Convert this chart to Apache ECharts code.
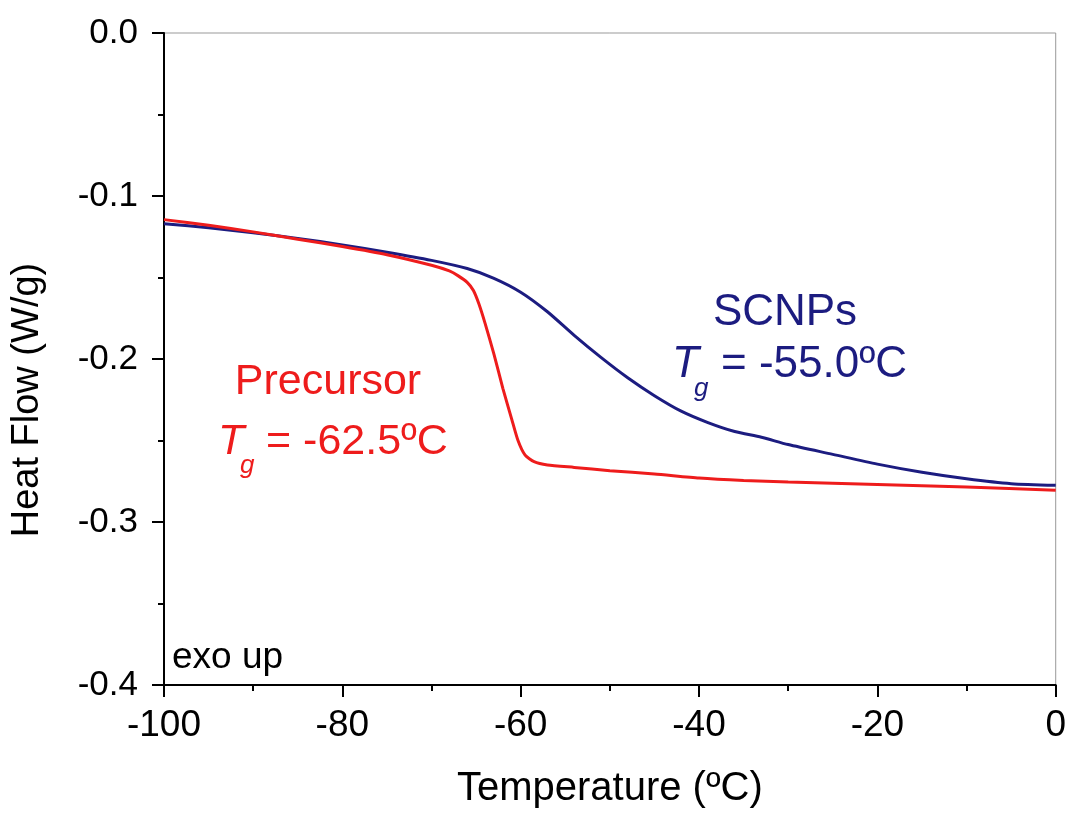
<!DOCTYPE html>
<html>
<head>
<meta charset="utf-8">
<script src="https://cdn.jsdelivr.net/npm/echarts@6/dist/echarts.min.js"></script>
<style>
  html, body { margin: 0; padding: 0; background: #fff; }
  #main { width: 1069px; height: 814px; }
</style>
</head>
<body>
<div id="main"></div>
<script>
const FONT = 'Liberation Sans, Arial, Helvetica, sans-serif';
const RED = '#ee1c1c';
const NAVY = '#1c1c80';

// temperature (ºC) / heat flow (W/g)
const precursorT = [-100, -95, -90, -85, -80, -75, -70, -68, -67, -66, -65.3, -64.7, -64, -63, -62, -61, -60.3, -59.5, -58.5, -57, -54, -50, -45, -40, -35, -30, -20, -10, 0];
const precursorHF = [-0.1145, -0.118, -0.122, -0.1265, -0.131, -0.136, -0.1425, -0.146, -0.149, -0.153, -0.158, -0.166, -0.178, -0.197, -0.218, -0.237, -0.25, -0.259, -0.263, -0.265, -0.2665, -0.2685, -0.2705, -0.273, -0.2745, -0.2755, -0.277, -0.2785, -0.2805];

const scnpT = [-100, -95, -90, -85, -80, -75, -70, -66, -63, -60, -57, -54, -51, -48, -45, -42, -39, -36, -33, -30, -25, -20, -15, -10, -5, 0];
const scnpHF = [-0.117, -0.1195, -0.1225, -0.126, -0.13, -0.1345, -0.1395, -0.1445, -0.1505, -0.159, -0.171, -0.1855, -0.199, -0.2115, -0.2225, -0.232, -0.239, -0.2445, -0.248, -0.2525, -0.2585, -0.2645, -0.2695, -0.2735, -0.2765, -0.2775];

const xTicks = [-100, -80, -60, -40, -20, 0];
const yTicks = [0.0, -0.1, -0.2, -0.3, -0.4];

function pairs(xs, ys) {
  return xs.map((x, i) => [x, ys[i]]);
}

const chart = echarts.init(document.getElementById('main'), null, { renderer: 'canvas' });

const axisCommon = {
  axisLine: { show: true, onZero: false, lineStyle: { color: '#000', width: 2 } },
  axisTick: { show: true, inside: false, length: 12, lineStyle: { color: '#000', width: 2 } },
  minorTick: { show: true, splitNumber: 2, length: 6, lineStyle: { color: '#000', width: 2 } },
  splitLine: { show: false },
  nameTextStyle: { color: '#000', fontFamily: FONT, fontSize: 40 }
};

// plain annotation text, positioned by its left edge / vertical middle
function txt(text, x, y, size, color, extra) {
  return {
    type: 'text',
    x: x,
    y: y,
    z: 100,
    rotation: (extra && extra.rotation) || 0,
    style: Object.assign({
      text: text,
      fill: color,
      fontFamily: FONT,
      fontSize: size,
      align: 'left',
      verticalAlign: 'middle'
    }, extra && extra.style)
  };
}

const option = {
  animation: false,
  backgroundColor: '#fff',
  grid: {
    left: 164, right: 11, top: 33, bottom: 126,
    show: true, borderColor: '#999', borderWidth: 1, backgroundColor: 'transparent'
  },
  xAxis: Object.assign({}, axisCommon, {
    type: 'value',
    min: xTicks[0], max: xTicks[xTicks.length - 1], interval: 20,
    name: 'Temperature (ºC)', nameLocation: 'middle', nameGap: 84,
    axisLabel: { color: '#000', fontFamily: FONT, fontSize: 37, margin: 22 }
  }),
  yAxis: Object.assign({}, axisCommon, {
    type: 'value',
    min: yTicks[yTicks.length - 1], max: yTicks[0], interval: 0.1,
    axisLabel: {
      color: '#000', fontFamily: FONT, fontSize: 35, margin: 26,
      formatter: v => (Math.abs(v) < 1e-9 ? 0 : v).toFixed(1)
    }
  }),
  series: [
    {
      name: 'SCNPs', type: 'line', data: pairs(scnpT, scnpHF),
      showSymbol: false, smooth: 0.25,
      lineStyle: { color: NAVY, width: 3 }, z: 3
    },
    {
      name: 'Precursor', type: 'line', data: pairs(precursorT, precursorHF),
      showSymbol: false, smooth: 0.2,
      lineStyle: { color: RED, width: 3 }, z: 4
    }
  ],
  graphic: [
    txt('Heat Flow (W/g)', 28, 400, 38, '#000', { rotation: Math.PI / 2, style: { align: 'center' } }),
    txt('Precursor', 328, 382, 43, RED, { style: { align: 'center' } }),
    txt('T', 218, 442, 43, RED, { style: { fontStyle: 'italic' } }),
    txt('g', 240, 466, 26, RED, { style: { fontStyle: 'italic' } }),
    txt('= -62.5ºC', 266, 442, 43, RED),
    txt('SCNPs', 785, 313, 44, NAVY, { style: { align: 'center' } }),
    txt('T', 672, 365, 44, NAVY, { style: { fontStyle: 'italic' } }),
    txt('g', 694, 389, 26, NAVY, { style: { fontStyle: 'italic' } }),
    txt('= -55.0ºC', 721, 365, 44, NAVY),
    txt('exo up', 172, 658, 37, '#000')
  ]
};

chart.setOption(option);
</script>
</body>
</html>
